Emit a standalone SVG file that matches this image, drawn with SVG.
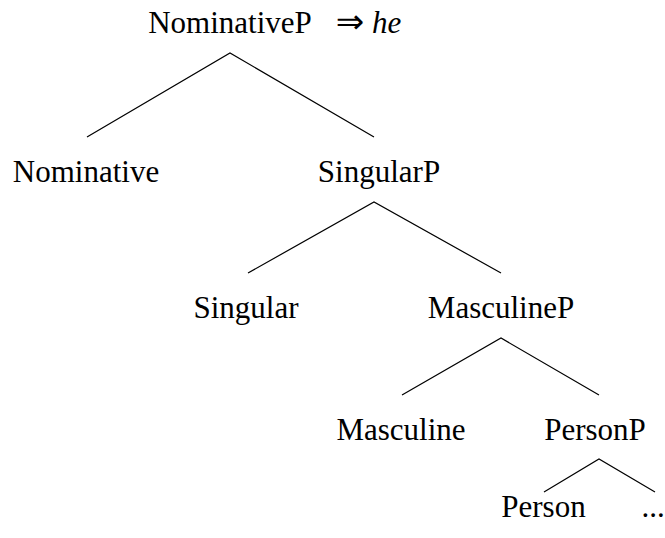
<svg xmlns="http://www.w3.org/2000/svg" width="665" height="538" viewBox="0 0 665 538">
<style>
.t{font-family:"Liberation Serif","DejaVu Serif",serif;font-size:31px;fill:#000;text-anchor:middle}
.e{stroke:#000;stroke-width:1.2;fill:none}
</style>
<rect width="665" height="538" fill="#fff"/>
<g id="connectors">
<path class="e" d="M87,137 L230,53 L374,137"/>
<path class="e" d="M248,273 L374,202 L501,273"/>
<path class="e" d="M402,395 L501,338 L599,395"/>
<path class="e" d="M544,492 L599,459 L655,492"/>
</g>
<g id="nominativeP">
<text class="t" x="230" y="33">NominativeP</text>
<text class="t" x="350" y="33" style="font-family:'DejaVu Sans',sans-serif;font-size:34px">⇒</text>
<text class="t" x="372" y="33" style="text-anchor:start;font-style:italic">he</text>
</g>
<g id="nominative"><text class="t" x="86" y="182">Nominative</text></g>
<g id="singularP"><text class="t" x="379" y="182">SingularP</text></g>
<g id="singular"><text class="t" x="246" y="318">Singular</text></g>
<g id="masculineP"><text class="t" x="501" y="318">MasculineP</text></g>
<g id="masculine"><text class="t" x="401" y="440">Masculine</text></g>
<g id="personP"><text class="t" x="595" y="440">PersonP</text></g>
<g id="person"><text class="t" x="543.5" y="517">Person</text></g>
<g id="ellipsis"><text class="t" x="653" y="517">...</text></g>
</svg>
